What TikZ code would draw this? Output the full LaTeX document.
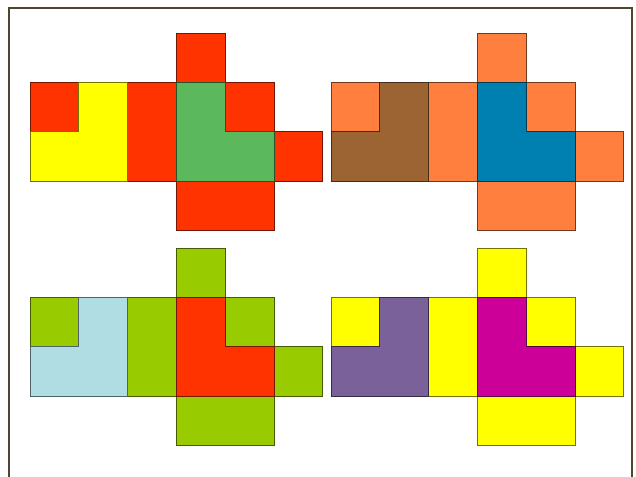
\documentclass[tikz,border=0pt]{standalone}
\usepackage{xcolor}
\usepackage{tikz}
\definecolor{canliKirmizi}{HTML}{FF3300}
\definecolor{limonSari}{HTML}{FFFF00}
\definecolor{yaprakYesil}{HTML}{5CB85C}
\definecolor{turuncu}{HTML}{FF7F3F}
\definecolor{kahve}{HTML}{9C6433}
\definecolor{petrolMavi}{HTML}{0080B0}
\definecolor{fistikYesil}{HTML}{99CC00}
\definecolor{buzMavi}{HTML}{B0DCE4}
\definecolor{lavanta}{HTML}{7A6199}
\definecolor{fusya}{HTML}{CC0099}
\definecolor{cerceve}{HTML}{4F4630}

\begin{document}
\begin{tikzpicture}[x=0.03cm, y=-0.03cm,
  tegel/.style={fill=#1, draw=#1!45!black, line width=0.65pt, line join=miter}]
\useasboundingbox (0,0) rectangle (636,477);
\fill[white] (0,0) rectangle (636,477);
% frame
\draw[cerceve, line width=1.8pt] (9,480) -- (9,8) -- (632,8) -- (632,480);
% four copies of the net
\foreach \dx/\dy/\zemin/\solL/\sagL in {30/33/canliKirmizi/limonSari/yaprakYesil,
    331/33/turuncu/kahve/petrolMavi,
    30/248/fistikYesil/buzMavi/canliKirmizi,
    331/248/limonSari/lavanta/fusya} {
  \begin{scope}[shift={(\dx,\dy)}, xscale=48.8, yscale=49.4]
    \draw[tegel=\zemin] (3,0) rectangle (4,1);
    \draw[tegel=\zemin] (0,1) rectangle (1,2);
    \draw[tegel=\zemin] (2,1) rectangle (3,3);
    \draw[tegel=\zemin] (4,1) rectangle (5,2);
    \draw[tegel=\zemin] (5,2) rectangle (6,3);
    \draw[tegel=\zemin] (3,3) rectangle (5,4);
    \draw[tegel=\solL] (1,1) -- (2,1) -- (2,3) -- (0,3) -- (0,2) -- (1,2) -- cycle;
    \draw[tegel=\sagL] (3,1) -- (4,1) -- (4,2) -- (5,2) -- (5,3) -- (3,3) -- cycle;
  \end{scope}
}
\end{tikzpicture}
\end{document}
